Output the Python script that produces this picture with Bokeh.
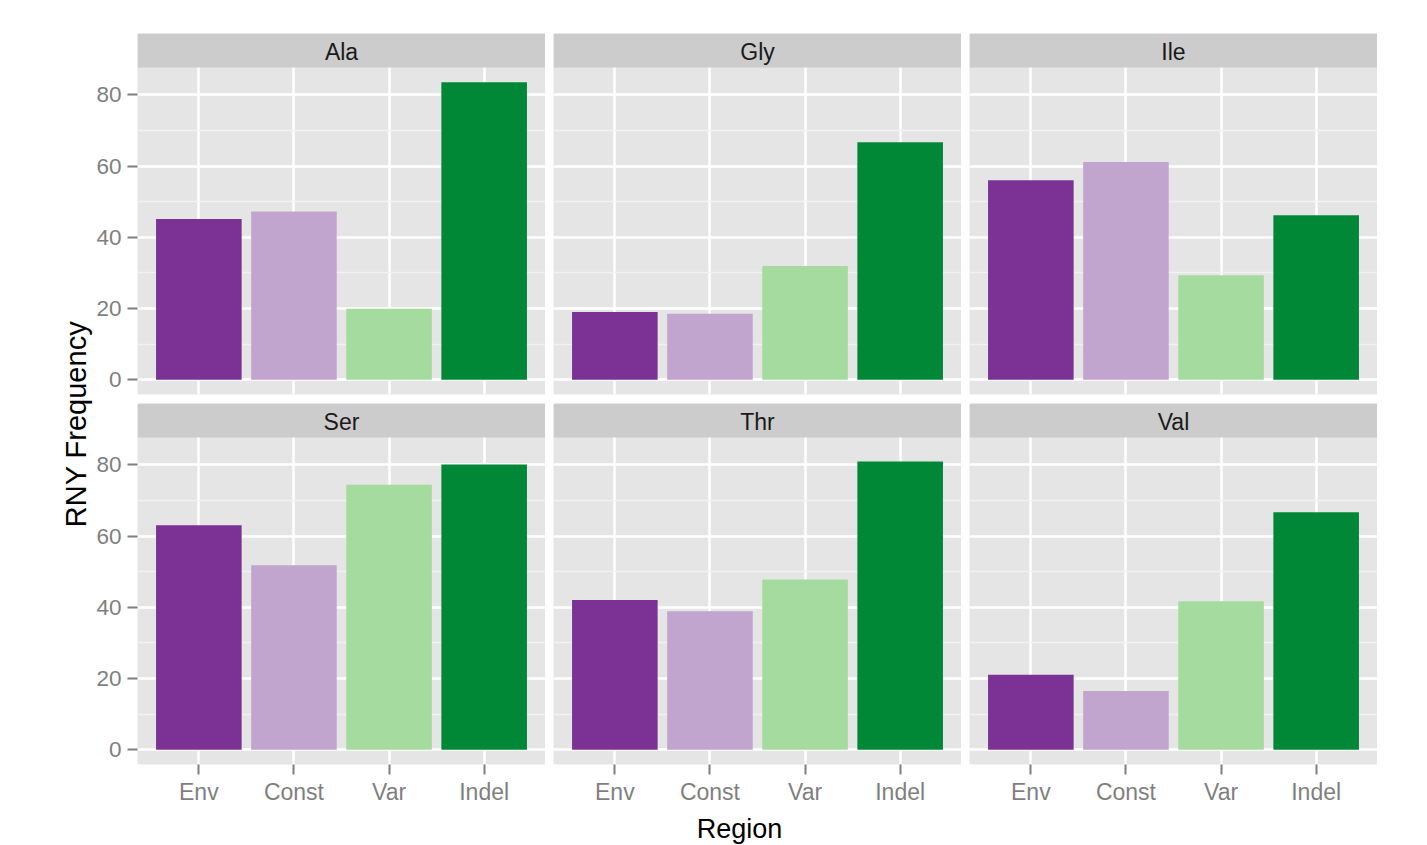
from math import pi

from bokeh.plotting import figure
from bokeh.models import (FactorRange, Range1d, FixedTicker, CategoricalTicker,
                          BoxAnnotation, Label, ColumnDataSource)
from bokeh.layouts import row, column
from bokeh.transform import factor_cmap
from bokeh.core.properties import value
from bokeh.embed import file_html
from bokeh.resources import INLINE

# ---------------- data ----------------
amino_acids = ["Ala", "Gly", "Ile", "Ser", "Thr", "Val"]
regions = ["Env", "Const", "Var", "Indel"]
env_freq = [45.1, 19.0, 56.0, 63.0, 42.0, 21.0]
const_freq = [47.2, 18.5, 61.1, 51.8, 38.9, 16.5]
var_freq = [19.9, 31.9, 29.3, 74.4, 47.8, 41.7]
indel_freq = [83.5, 66.7, 46.2, 80.1, 80.9, 66.7]
region_colors = ["#7B3294", "#C2A5CF", "#A6DBA0", "#008837"]
y_ticks = [0, 20, 40, 60, 80]
y_minor_ticks = [10, 30, 50, 70]
x_title = "Region"
y_title = "RNY Frequency"

# ---------------- style / geometry ----------------
FONT = "Liberation Sans"
PANEL_W = 408
PANEL_H = 327
STRIP_H = 34
FRAME_H = PANEL_H + STRIP_H
LEFT_AXIS = 44
GAP = 8
TOP_BORDER = 33
ROW_GAP = 9
BOTTOM_AXIS = 42
YLAB_W = 93
XLAB_H = 38

ymax = max(env_freq + const_freq + var_freq + indel_freq)
y_lo = -0.05 * ymax
y_panel_hi = 1.05 * ymax
y_hi = y_panel_hi + (y_panel_hi - y_lo) * STRIP_H / PANEL_H


def make_panel(idx, col_i, row_i):
    first_col = col_i == 0
    bottom_row = row_i == 1
    p = figure(
        x_range=FactorRange(factors=regions, range_padding=0.145,
                            range_padding_units="absolute"),
        y_range=Range1d(y_lo, y_hi),
        frame_width=PANEL_W, frame_height=FRAME_H,
        output_backend="svg", toolbar_location=None,
        x_axis_location="below" if bottom_row else None,
        y_axis_location="left" if first_col else None,
        min_border_left=LEFT_AXIS if first_col else 0,
        min_border_right=0,
        min_border_top=TOP_BORDER if row_i == 0 else 0,
        min_border_bottom=BOTTOM_AXIS if bottom_row else ROW_GAP,
    )
    p.background_fill_color = "#E5E5E5"
    p.border_fill_color = "white"
    p.outline_line_color = None

    # grids
    p.ygrid.ticker = FixedTicker(ticks=y_ticks, minor_ticks=y_minor_ticks)
    p.ygrid.grid_line_color = "white"
    p.ygrid.grid_line_width = 2.5
    p.ygrid.minor_grid_line_color = "#F2F2F2"
    p.ygrid.minor_grid_line_width = 1.3
    p.xgrid.ticker = CategoricalTicker()
    p.xgrid.grid_line_color = "white"
    p.xgrid.grid_line_width = 2.5

    # axes
    if first_col:
        ax = p.yaxis[0]
        ax.ticker = FixedTicker(ticks=y_ticks, minor_ticks=y_minor_ticks)
        ax.axis_line_color = None
        ax.major_tick_out = 10
        ax.major_tick_in = 0
        ax.minor_tick_out = 0
        ax.minor_tick_in = 0
        ax.minor_tick_line_color = None
        ax.major_tick_line_color = "#7F7F7F"
        ax.major_tick_line_width = 2
        ax.major_label_text_color = "#7F7F7F"
        ax.major_label_text_font = FONT
        ax.major_label_text_font_size = "22.5px"
        ax.major_label_standoff = 6
    if bottom_row:
        ax = p.xaxis[0]
        ax.axis_line_color = None
        ax.major_tick_out = 10
        ax.major_tick_in = 0
        ax.major_tick_line_color = "#7F7F7F"
        ax.major_tick_line_width = 2
        ax.major_label_text_color = "#7F7F7F"
        ax.major_label_text_font = FONT
        ax.major_label_text_font_size = "23px"
        ax.major_label_standoff = 4

    vals = [env_freq[idx], const_freq[idx], var_freq[idx], indel_freq[idx]]
    src = ColumnDataSource(dict(region=regions, freq=vals))
    p.vbar(x="region", top="freq", width=0.9, source=src,
           fill_color=factor_cmap("region", palette=region_colors, factors=regions),
           line_color=None)

    # facet strip
    strip = BoxAnnotation(bottom=y_panel_hi, fill_color="#CCCCCC", fill_alpha=1.0,
                          line_color=None)
    p.add_layout(strip)
    strip_span = y_hi - y_panel_hi
    lab = Label(x=len(regions) / 2, y=y_panel_hi + strip_span * 0.46,
                text=amino_acids[idx], text_align="center",
                text_baseline="middle", text_font=FONT,
                text_font_size="23px", text_color="#1A1A1A")
    p.add_layout(lab)
    return p


panels = []
for i in range(len(amino_acids)):
    panels.append(make_panel(i, i % 3, i // 3))

top_row = row(panels[0], panels[1], panels[2], spacing=GAP)
bottom_row = row(panels[3], panels[4], panels[5], spacing=GAP)

grid_w = LEFT_AXIS + 3 * PANEL_W + 2 * GAP
top_h = TOP_BORDER + FRAME_H + ROW_GAP
bot_h = FRAME_H + BOTTOM_AXIS
total_h = top_h + bot_h + XLAB_H

# x-axis title
xlab = figure(width=grid_w, height=XLAB_H, x_range=Range1d(0, grid_w),
              y_range=Range1d(0, XLAB_H), output_backend="svg",
              toolbar_location=None, x_axis_location=None, y_axis_location=None,
              min_border=0)
xlab.outline_line_color = None
xlab.background_fill_color = "white"
xlab.border_fill_color = "white"
xlab.grid.visible = False
xlab.text(x=[646], y=[17], text=[x_title], text_align="center",
          text_baseline="middle", text_font=value(FONT),
          text_font_size="27px", text_color="black")

# y-axis title
ylab = figure(width=YLAB_W, height=total_h, x_range=Range1d(0, YLAB_W),
              y_range=Range1d(0, total_h), output_backend="svg",
              toolbar_location=None, x_axis_location=None, y_axis_location=None,
              min_border=0)
ylab.outline_line_color = None
ylab.background_fill_color = "white"
ylab.border_fill_color = "white"
ylab.grid.visible = False
ylab.text(x=[75], y=[total_h - 423.5], text=[y_title], angle=pi / 2,
          text_align="center", text_baseline="middle", text_font=value(FONT),
          text_font_size="29px", text_color="black")

layout = row(ylab, column(top_row, bottom_row, xlab))

open("out.html", "w").write(file_html(layout, INLINE))
